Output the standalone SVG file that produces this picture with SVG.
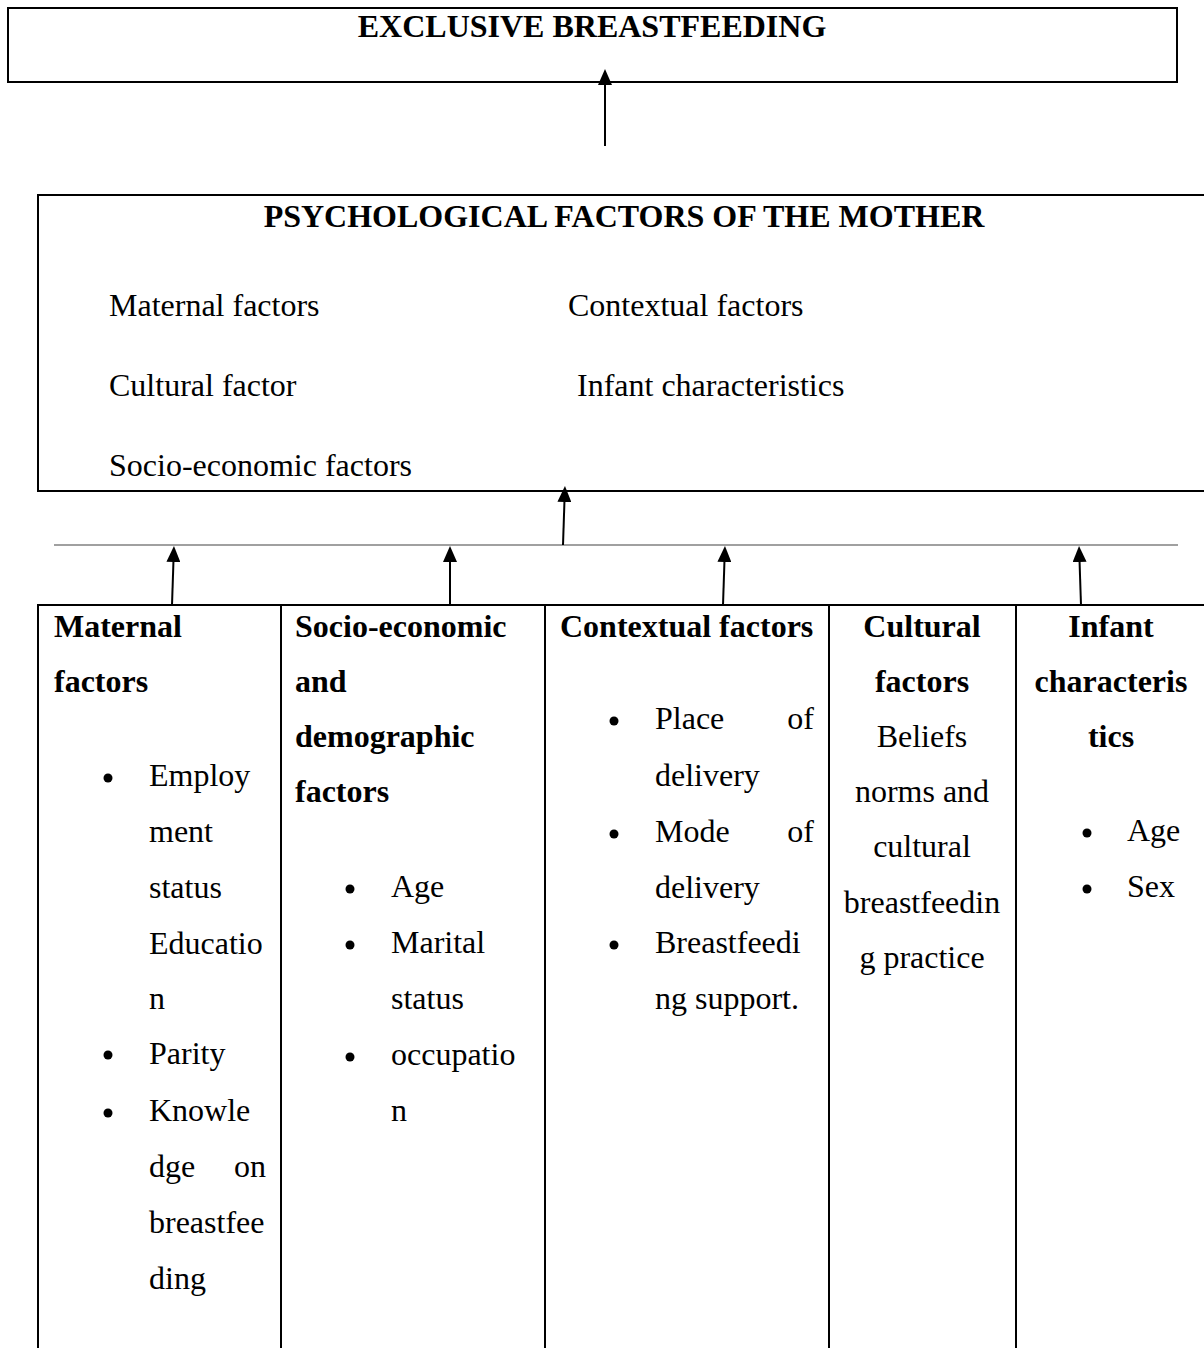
<svg xmlns="http://www.w3.org/2000/svg" width="1204" height="1348" viewBox="0 0 1204 1348">
<defs>
<style>
text{font-family:"Liberation Serif","Times New Roman",serif;font-size:32px;fill:#000}
.b{font-weight:bold}
.m{text-anchor:middle}
.e{text-anchor:end}
.box{fill:none;stroke:#000;stroke-width:2}
.conn{stroke:#000;stroke-width:2;fill:none;marker-end:url(#ah)}
.bus{stroke:#808080;stroke-width:1.5;fill:none}
.dot{fill:#000}
</style>
<marker id="ah" viewBox="0 0 16 14" refX="8" refY="7" markerWidth="16" markerHeight="14" markerUnits="userSpaceOnUse" orient="auto">
<path d="M0,0 L16,7 L0,14 z" fill="#000"/>
</marker>
</defs>
<rect width="1204" height="1348" fill="#fff"/>

<g id="exclusive-breastfeeding">
<rect class="box" x="8" y="8" width="1169" height="74"/>
<text class="b m" x="592" y="37">EXCLUSIVE BREASTFEEDING</text>
</g>

<g id="psychological-factors">
<rect class="box" x="38" y="195" width="1180" height="296"/>
<text class="b m" x="624" y="227">PSYCHOLOGICAL FACTORS OF THE MOTHER</text>
<text x="109" y="316">Maternal factors</text>
<text x="568" y="316">Contextual factors</text>
<text x="109" y="396">Cultural factor</text>
<text x="577" y="396">Infant characteristics</text>
<text x="109" y="476">Socio-economic factors</text>
</g>

<g id="table-frame">
<path class="box" d="M38,1350 V605 H1215 M281,605 V1350 M545,605 V1350 M829,605 V1350 M1016,605 V1350"/>
</g>

<g id="maternal-factors">
<text class="b" x="54" y="637">Maternal</text>
<text class="b" x="54" y="692">factors</text>
<circle class="dot" cx="108" cy="778" r="4.5"/>
<text x="149" y="786">Employ</text>
<text x="149" y="842">ment</text>
<text x="149" y="898">status</text>
<text x="149" y="954">Educatio</text>
<text x="149" y="1009">n</text>
<circle class="dot" cx="108" cy="1055" r="4.5"/>
<text x="149" y="1064">Parity</text>
<circle class="dot" cx="108" cy="1113" r="4.5"/>
<text x="149" y="1121">Knowle</text>
<text x="149" y="1177">dge</text>
<text class="e" x="266" y="1177">on</text>
<text x="149" y="1233">breastfee</text>
<text x="149" y="1289">ding</text>
</g>

<g id="socio-economic-factors">
<text class="b" x="295" y="637">Socio-economic</text>
<text class="b" x="295" y="692">and</text>
<text class="b" x="295" y="747">demographic</text>
<text class="b" x="295" y="802">factors</text>
<circle class="dot" cx="350" cy="889" r="4.5"/>
<text x="391" y="897">Age</text>
<circle class="dot" cx="350" cy="945" r="4.5"/>
<text x="391" y="953">Marital</text>
<text x="391" y="1009">status</text>
<circle class="dot" cx="350" cy="1057" r="4.5"/>
<text x="391" y="1065">occupatio</text>
<text x="391" y="1121">n</text>
</g>

<g id="contextual-factors">
<text class="b" x="560" y="637">Contextual factors</text>
<circle class="dot" cx="614" cy="721" r="4.5"/>
<text x="655" y="729">Place</text>
<text class="e" x="814" y="729">of</text>
<text x="655" y="786">delivery</text>
<circle class="dot" cx="614" cy="834" r="4.5"/>
<text x="655" y="842">Mode</text>
<text class="e" x="814" y="842">of</text>
<text x="655" y="898">delivery</text>
<circle class="dot" cx="614" cy="945" r="4.5"/>
<text x="655" y="953">Breastfeedi</text>
<text x="655" y="1009">ng support.</text>
</g>

<g id="cultural-factors">
<text class="b m" x="922" y="637">Cultural</text>
<text class="b m" x="922" y="692">factors</text>
<text class="m" x="922" y="747">Beliefs</text>
<text class="m" x="922" y="802">norms and</text>
<text class="m" x="922" y="857">cultural</text>
<text class="m" x="922" y="913">breastfeedin</text>
<text class="m" x="922" y="968">g practice</text>
</g>

<g id="infant-characteristics">
<text class="b m" x="1111" y="637">Infant</text>
<text class="b m" x="1111" y="692">characteris</text>
<text class="b m" x="1111" y="747">tics</text>
<circle class="dot" cx="1087" cy="833" r="4.5"/>
<text x="1127" y="841">Age</text>
<circle class="dot" cx="1087" cy="889" r="4.5"/>
<text x="1127" y="897">Sex</text>
</g>

<g id="connectors">
<line class="bus" x1="54" y1="545" x2="1178" y2="545"/>
<line class="conn" x1="605" y1="146" x2="605" y2="77"/>
<line class="conn" x1="563" y1="545" x2="564.7" y2="494"/>
<line class="conn" x1="172" y1="605" x2="173.7" y2="554"/>
<line class="conn" x1="450" y1="605" x2="450" y2="554"/>
<line class="conn" x1="723" y1="605" x2="724.7" y2="554"/>
<line class="conn" x1="1081" y1="605" x2="1079.3" y2="554"/>
</g>
</svg>
